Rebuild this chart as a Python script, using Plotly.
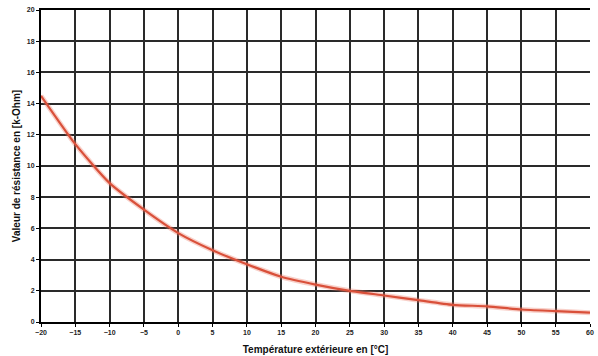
import plotly.graph_objects as go

temps = [-20, -15, -10, -5, 0, 5, 10, 15, 20, 25, 30, 35, 40, 45, 50, 55, 60]
resist = [14.5, 11.4, 8.9, 7.2, 5.7, 4.6, 3.7, 2.9, 2.4, 2.0, 1.7, 1.4, 1.1, 1.0, 0.8, 0.7, 0.6]
x_ticks = list(range(-20, 61, 5))
y_ticks = list(range(0, 21, 2))

fig = go.Figure()
fig.add_trace(go.Scatter(x=temps, y=resist, mode="lines", line=dict(color="rgba(235,120,100,0.35)", width=5, shape="spline", smoothing=0.6), hoverinfo="skip"))
fig.add_trace(go.Scatter(x=temps, y=resist, mode="lines", line=dict(color="#d9503a", width=2.2, shape="spline", smoothing=0.6)))

tf = dict(size=7, family="Liberation Sans, Arial, sans-serif", weight="bold", color="#222")
fig.update_layout(
    width=598, height=356,
    margin=dict(l=41, r=8, t=10, b=34),
    paper_bgcolor="white", plot_bgcolor="white",
    showlegend=False,
    font=dict(family="Liberation Sans, Arial, sans-serif", color="#111"),
    xaxis=dict(range=[-20, 60], tickvals=x_ticks, showgrid=True, gridcolor="#2a2a2a", gridwidth=1.6,
               showline=True, linecolor="black", linewidth=2, mirror=True, zeroline=False,
               ticks="outside", ticklen=3, tickcolor="black", tickfont=tf, automargin=False,
               title=dict(text="<b>Température extérieure en [°C]</b>", font=dict(size=10), standoff=11)),
    yaxis=dict(range=[0, 20], tickvals=y_ticks, showgrid=True, gridcolor="#2a2a2a", gridwidth=1.6,
               showline=True, linecolor="black", linewidth=2, mirror=False, zeroline=False,
               ticks="outside", ticklen=3, tickcolor="black", tickfont=tf, automargin=False,
               title=dict(text="<b>Valeur de résistance en [k-Ohm]</b>", font=dict(size=10), standoff=4)),
)
fig.write_html("out.html")
